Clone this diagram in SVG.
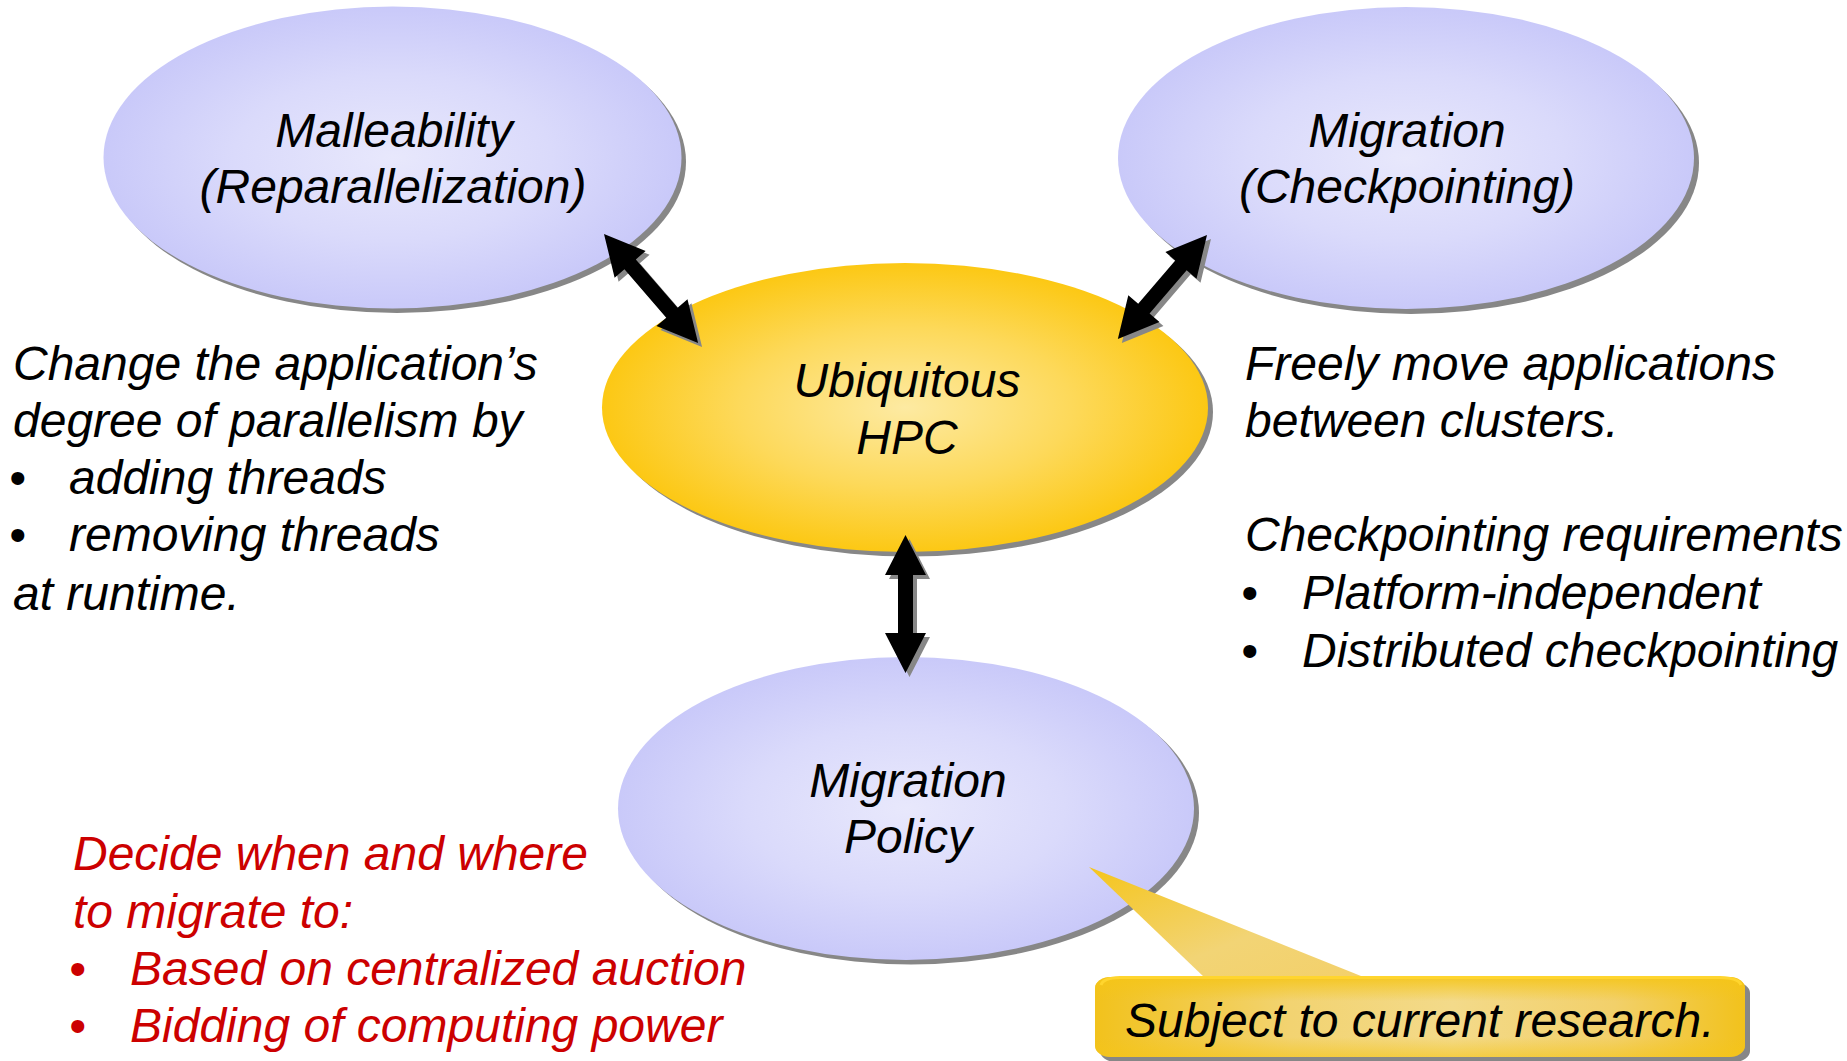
<svg xmlns="http://www.w3.org/2000/svg" xmlns:xlink="http://www.w3.org/1999/xlink" width="1847" height="1061" viewBox="0 0 1847 1061">
  <defs>
    <radialGradient id="lavender" cx="50%" cy="50%" r="50%">
      <stop offset="0" stop-color="#e8e8fc"/>
      <stop offset="0.55" stop-color="#dadafb"/>
      <stop offset="1" stop-color="#c9c9f9"/>
    </radialGradient>
    <radialGradient id="gold" cx="50%" cy="50%" r="50%">
      <stop offset="0" stop-color="#fdeaa2"/>
      <stop offset="0.55" stop-color="#fdd95a"/>
      <stop offset="1" stop-color="#fcc814"/>
    </radialGradient>
    <linearGradient id="calloutFill" x1="0" y1="0" x2="1" y2="0">
      <stop offset="0" stop-color="#f2c21c"/>
      <stop offset="0.3" stop-color="#f2d371"/>
      <stop offset="0.55" stop-color="#f3da8a"/>
      <stop offset="0.8" stop-color="#f2d06a"/>
      <stop offset="1" stop-color="#f2c21c"/>
    </linearGradient>
    <linearGradient id="calloutShade" x1="0" y1="0" x2="0" y2="1">
      <stop offset="0" stop-color="#f5c518" stop-opacity="0.9"/>
      <stop offset="0.3" stop-color="#f5c518" stop-opacity="0"/>
      <stop offset="0.75" stop-color="#f5c518" stop-opacity="0"/>
      <stop offset="1" stop-color="#f5c518" stop-opacity="0.6"/>
    </linearGradient>
    <linearGradient id="pointerFill" x1="0" y1="0" x2="1" y2="1">
      <stop offset="0" stop-color="#f5c51c"/>
      <stop offset="0.6" stop-color="#f2d475"/>
      <stop offset="1" stop-color="#f3d06a"/>
    </linearGradient>
    <!-- double-headed arrow along +x, from 0 to length 138 -->
    <path id="arrow138" d="M0,0 L40,-20.5 L40,-7.5 L98,-7.5 L98,-20.5 L138,0 L98,20.5 L98,7.5 L40,7.5 L40,20.5 Z"/>
    <path id="arrow144" d="M0,0 L40,-20.5 L40,-7.5 L104,-7.5 L104,-20.5 L144,0 L104,20.5 L104,7.5 L40,7.5 L40,20.5 Z"/>
    <path id="arrow137" d="M0,0 L40,-20.5 L40,-7.5 L97,-7.5 L97,-20.5 L137,0 L97,20.5 L97,7.5 L40,7.5 L40,20.5 Z"/>
  </defs>
  <style>
    .label { font-family: "Liberation Sans", Arial, sans-serif; font-style: italic; font-size: 48px; fill: #000; }
    .mid { text-anchor: middle; }
    .red { fill: #cc0000; }
    .shadow { fill: #878787; }
    .arrow { fill: #000; }
  </style>

  <rect width="1847" height="1061" fill="#ffffff"/>

  <!-- nodes -->
  <g id="node-malleability">
    <ellipse class="shadow" cx="397" cy="162" rx="289" ry="151"/>
    <ellipse cx="392.5" cy="157.5" rx="289" ry="151" fill="url(#lavender)"/>
    <text class="label mid" x="394" y="147">Malleability</text>
    <text class="label mid" x="393" y="203">(Reparallelization)</text>
  </g>

  <g id="node-migration">
    <ellipse class="shadow" cx="1411" cy="163" rx="288" ry="151"/>
    <ellipse cx="1406" cy="158" rx="288" ry="151" fill="url(#lavender)"/>
    <text class="label mid" x="1407" y="147">Migration</text>
    <text class="label mid" x="1407" y="203">(Checkpointing)</text>
  </g>

  <g id="node-hpc">
    <ellipse class="shadow" cx="910" cy="412" rx="303" ry="144.5"/>
    <ellipse cx="905" cy="407.5" rx="303" ry="144.5" fill="url(#gold)"/>
    <text class="label mid" x="907" y="397">Ubiquitous</text>
    <text class="label mid" x="907" y="454">HPC</text>
  </g>

  <g id="node-policy">
    <ellipse class="shadow" cx="911" cy="813" rx="288" ry="151.5"/>
    <ellipse cx="906" cy="808.5" rx="288" ry="151.5" fill="url(#lavender)"/>
    <text class="label mid" x="908" y="797">Migration</text>
    <text class="label mid" x="908" y="853">Policy</text>
  </g>

  <!-- connectors -->
  <g id="connectors">
    <g transform="translate(604,234) rotate(49.2)">
      <use xlink:href="#arrow144" class="shadow" transform="translate(5.6,-0.4)"/>
      <use xlink:href="#arrow144" class="arrow"/>
    </g>
    <g transform="translate(1207,235) rotate(130.6)">
      <use xlink:href="#arrow137" class="shadow" transform="translate(0.4,-5.6)"/>
      <use xlink:href="#arrow137" class="arrow"/>
    </g>
    <g transform="translate(905.5,535) rotate(90)">
      <use xlink:href="#arrow138" class="shadow" transform="translate(4,-4)"/>
      <use xlink:href="#arrow138" class="arrow"/>
    </g>
  </g>

  <!-- callout -->
  <g id="callout-research">
    <rect class="shadow" x="1100" y="982" width="650" height="80" rx="16" ry="11"/>
    <path d="M1089,867 L1366,978 L1205,978 Z" fill="url(#pointerFill)"/>
    <rect x="1095" y="977" width="650" height="80" rx="16" ry="11" fill="url(#calloutFill)"/>
    <rect x="1095" y="977" width="650" height="80" rx="16" ry="11" fill="url(#calloutShade)"/>
    <path d="M1205,978.5 L1366,978.5 L1205,978.5 Z" fill="none"/>
    <path d="M1101,985 Q1103,978 1120,977.5 L1720,977.5 Q1739,978 1741,985" fill="none" stroke="#ffd52e" stroke-width="3"/>
    <text class="label" x="1125" y="1037">Subject to current research.</text>
  </g>

  <!-- free text annotations -->
  <g id="text-malleability">
    <text class="label" x="13" y="380">Change the application’s</text>
    <text class="label" x="13" y="437">degree of parallelism by</text>
    <text class="label" x="9" y="494">•</text>
    <text class="label" x="69" y="494">adding threads</text>
    <text class="label" x="9" y="551">•</text>
    <text class="label" x="69" y="551">removing threads</text>
    <text class="label" x="13" y="610">at runtime.</text>
  </g>

  <g id="text-migration">
    <text class="label" x="1245" y="380">Freely move applications</text>
    <text class="label" x="1245" y="437">between clusters.</text>
    <text class="label" x="1245" y="551">Checkpointing requirements</text>
    <text class="label" x="1241" y="609">•</text>
    <text class="label" x="1302" y="609">Platform-independent</text>
    <text class="label" x="1241" y="667">•</text>
    <text class="label" x="1302" y="667">Distributed checkpointing</text>
  </g>

  <g id="text-policy">
    <text class="label red" x="73" y="870">Decide when and where</text>
    <text class="label red" x="73" y="928">to migrate to:</text>
    <text class="label red" x="69" y="985">•</text>
    <text class="label red" x="130" y="985">Based on centralized auction</text>
    <text class="label red" x="69" y="1042">•</text>
    <text class="label red" x="130" y="1042">Bidding of computing power</text>
  </g>
</svg>
